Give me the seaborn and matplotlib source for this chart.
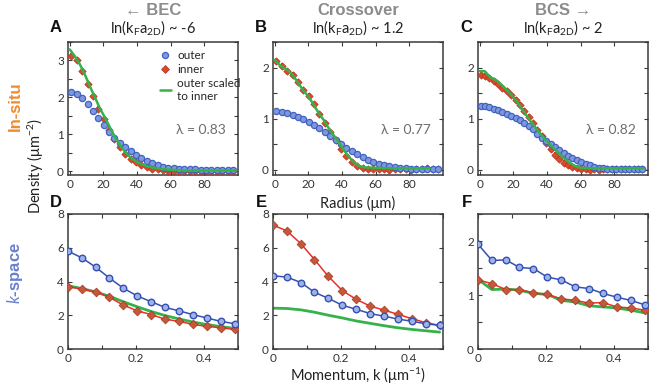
import numpy as np
import pandas as pd
import matplotlib
matplotlib.use("Agg")
import matplotlib.pyplot as plt
from matplotlib.ticker import MultipleLocator, FuncFormatter
from matplotlib.lines import Line2D
import seaborn as sns

# ---------------- data ----------------
# in-situ radius grids (um)
r_ab = [1.0, 4.2, 7.4, 10.6, 13.8, 17.0, 20.2, 23.4, 26.6, 29.8, 33.0, 36.2, 39.4, 42.6, 45.8,
        49.0, 52.2, 55.4, 58.6, 61.8, 65.0, 68.2, 71.4, 74.6, 77.8, 81.0, 84.2, 87.4, 90.6, 93.8, 97.0]
r_c = [0.5, 3.1, 5.7, 8.3, 10.9, 13.5, 16.1, 18.7, 21.3, 23.9, 26.5, 29.1, 31.7, 34.3, 36.9, 39.5,
       42.1, 44.7, 47.3, 49.9, 52.5, 55.1, 57.7, 60.3, 62.9, 65.5, 68.1, 70.7, 73.3, 75.9, 78.5,
       81.1, 83.7, 86.3, 88.9, 91.5, 94.1, 96.7]

A_outer = [2.15, 2.09, 1.99, 1.82, 1.62, 1.44, 1.24, 1.06, 0.90, 0.77, 0.65, 0.54, 0.44, 0.36, 0.29,
           0.23, 0.17, 0.13, 0.10, 0.09, 0.07, 0.06, 0.06, 0.05, 0.04, 0.04, 0.03, 0.03, 0.03, 0.03, 0.03]
A_inner = [3.12, 3.01, 2.72, 2.36, 2.04, 1.70, 1.42, 1.13, 0.88, 0.66, 0.48, 0.34, 0.24, 0.16, 0.11,
           0.07, 0.05, 0.03, 0.02, 0.01, 0.00, 0.00, 0.01, 0.00, 0.01, 0.01, 0.01, 0.01, 0.02, 0.02, 0.02]
A_scaled_r = [0, 3, 6, 9, 12, 15, 18, 21, 24, 27, 30, 33, 36, 40, 45, 50, 55, 60, 70, 80, 90, 99]
A_scaled = [3.30, 3.12, 2.90, 2.62, 2.30, 2.00, 1.70, 1.45, 1.18, 0.92, 0.70, 0.52, 0.38, 0.25, 0.15,
            0.09, 0.06, 0.04, 0.02, 0.02, 0.02, 0.02]

B_outer = [1.16, 1.14, 1.11, 1.08, 1.04, 0.99, 0.94, 0.88, 0.81, 0.74, 0.66, 0.58, 0.50, 0.43, 0.37,
           0.31, 0.25, 0.20, 0.15, 0.12, 0.09, 0.07, 0.05, 0.04, 0.03, 0.02, 0.02, 0.02, 0.02, 0.02, 0.02]
B_inner = [2.12, 2.03, 1.93, 1.85, 1.72, 1.57, 1.44, 1.28, 1.10, 0.92, 0.75, 0.58, 0.41, 0.28, 0.16,
           0.08, 0.03, 0.01, 0.01, 0.02, 0.01, 0.00, 0.01, 0.02, 0.01, 0.00, 0.01, 0.02, 0.03, 0.02, 0.02]
B_scaled_r = [0, 2, 5, 8, 11, 14, 17, 20, 23, 26, 29, 32, 35, 38, 41, 44, 47, 50, 53, 60, 70, 80, 92]
B_scaled = [2.15, 2.08, 2.00, 1.95, 1.84, 1.70, 1.55, 1.44, 1.28, 1.12, 0.98, 0.82, 0.68, 0.54, 0.39,
            0.26, 0.15, 0.08, 0.05, 0.04, 0.03, 0.03, 0.03]

C_outer = [1.25, 1.24, 1.23, 1.20, 1.17, 1.14, 1.10, 1.06, 1.02, 0.97, 0.92, 0.85, 0.79, 0.71, 0.63,
           0.57, 0.51, 0.44, 0.38, 0.33, 0.28, 0.24, 0.20, 0.16, 0.12, 0.09, 0.065, 0.045, 0.03, 0.02,
           0.02, 0.015, 0.015, 0.015, 0.015, 0.015, 0.015, 0.015]
C_inner = [1.85, 1.83, 1.79, 1.73, 1.68, 1.61, 1.54, 1.46, 1.37, 1.27, 1.15, 1.03, 0.91, 0.78, 0.66,
           0.53, 0.41, 0.30, 0.21, 0.14, 0.09, 0.05, 0.03, 0.01, 0.01, 0.00, 0.01, 0.00, 0.02, 0.01,
           0.02, 0.01, 0.02, 0.01, 0.02, 0.01, 0.02, 0.01]
C_scaled_r = [0, 3, 6, 10, 14, 18, 22, 26, 30, 34, 38, 42, 46, 50, 54, 57, 60, 65, 70, 80, 90, 97]
C_scaled = [1.93, 1.93, 1.82, 1.75, 1.63, 1.50, 1.34, 1.15, 0.96, 0.79, 0.63, 0.49, 0.36, 0.23, 0.13,
            0.07, 0.04, 0.03, 0.03, 0.03, 0.03, 0.03]

lambdas = ["0.83", "0.77", "0.82"]
regimes = ["\u2190 BEC", "Crossover", "BCS \u2192"]
couplings = ["-6", "1.2", "2"]

# k-space
k = [0.0, 0.041, 0.082, 0.122, 0.163, 0.204, 0.245, 0.286, 0.327, 0.367, 0.408, 0.449, 0.490]
D_outer = [5.80, 5.40, 4.84, 4.20, 3.60, 3.14, 2.80, 2.46, 2.26, 2.04, 1.84, 1.64, 1.50]
D_inner = [3.70, 3.54, 3.38, 3.06, 2.60, 2.26, 2.04, 1.76, 1.64, 1.46, 1.34, 1.26, 1.16]
D_scaled = [3.75, 3.58, 3.38, 3.12, 2.80, 2.50, 2.22, 1.98, 1.78, 1.60, 1.45, 1.33, 1.22]
E_outer = [4.34, 4.26, 3.94, 3.36, 3.00, 2.59, 2.35, 2.10, 1.94, 1.78, 1.64, 1.50, 1.40]
E_inner = [7.34, 7.00, 6.24, 5.30, 4.30, 3.46, 2.94, 2.54, 2.30, 2.06, 1.80, 1.56, 1.40]
E_scaled = [2.42, 2.40, 2.32, 2.18, 2.00, 1.84, 1.66, 1.52, 1.38, 1.26, 1.16, 1.08, 1.00]
F_outer = [1.94, 1.64, 1.65, 1.51, 1.49, 1.33, 1.28, 1.15, 1.12, 1.03, 0.96, 0.90, 0.82]
F_inner = [1.28, 1.21, 1.10, 1.10, 1.04, 1.01, 0.93, 0.90, 0.85, 0.86, 0.78, 0.76, 0.72]
F_scaled = [1.29, 1.10, 1.11, 1.09, 1.03, 1.01, 0.90, 0.87, 0.80, 0.78, 0.76, 0.72, 0.67]

# ---------------- style ----------------
sns.set_theme(style="ticks")
plt.rcParams["font.family"] = ["Lato", "DejaVu Sans"]
plt.rcParams["mathtext.fontset"] = "custom"
plt.rcParams["mathtext.rm"] = "Lato"
plt.rcParams["mathtext.it"] = "Lato:italic"
plt.rcParams["mathtext.bf"] = "Lato:bold"

BLUE_F = "#7E98E0"
BLUE_E = "#4262BE"
BLUE_L = "#3550B4"
RED_F = "#D9482B"
RED_E = "#B8341E"
RED_L = "#EC2F28"
RED_M = "#C8573A"
GREEN = "#35B24A"
SPINE = "#3a3a3a"

fig = plt.figure(figsize=(6.57, 3.85), dpi=100)
W = 170 / 657
lefts = [68 / 657, 273 / 657, 478 / 657]
top_b, top_h = 1 - 175 / 385, 133 / 385
bot_b, bot_h = 1 - 349 / 385, 135 / 385


def style_ax(ax):
    for s in ax.spines.values():
        s.set_color(SPINE)
        s.set_linewidth(1.1)
    ax.tick_params(which="both", direction="in", top=True, right=True, length=3,
                   width=0.8, color=SPINE, labelsize=8.5, labelcolor="#333333", pad=3)
    ax.set_xlabel("")
    ax.set_ylabel("")


def int_fmt(v, p):
    return f"{v:g}" if abs(v - round(v)) < 1e-6 else ""


insitu = [
    (r_ab, A_outer, A_inner, A_scaled_r, A_scaled, 0.08, (-0.1, 3.5)),
    (r_ab, B_outer, B_inner, B_scaled_r, B_scaled, 0.055, (-0.1, 2.5)),
    (r_c, C_outer, C_inner, C_scaled_r, C_scaled, 0.055, (-0.1, 2.5)),
]

for i, (r, out, inn, gr, gs, err, ylim) in enumerate(insitu):
    ax = fig.add_axes([lefts[i], top_b, W, top_h])
    ax.errorbar(r, inn, yerr=err, fmt="none", ecolor=RED_F, elinewidth=1.4, capsize=0, zorder=2)
    sns.scatterplot(x=r, y=inn, ax=ax, marker="D", s=14, color=RED_F, edgecolor=RED_E,
                    linewidth=0.5, zorder=3)
    sns.scatterplot(x=r, y=out, ax=ax, marker="o", s=20, color=BLUE_F, edgecolor=BLUE_E,
                    linewidth=0.9, zorder=4)
    sns.lineplot(x=gr, y=gs, ax=ax, color=GREEN, linewidth=1.8, sort=False, estimator=None, zorder=5)
    ax.set_xlim(-1, 100)
    ax.set_ylim(*ylim)
    ax.set_xticks([0, 20, 40, 60, 80])
    ax.yaxis.set_major_locator(MultipleLocator(0.5))
    ax.yaxis.set_major_formatter(FuncFormatter(int_fmt))
    style_ax(ax)
    ax.text(0.78, 0.34, "\u03bb = " + lambdas[i], transform=ax.transAxes, ha="center",
            va="center", fontsize=10, color="#6e6e6e")
    ax.text(0.5, 1.035, r"ln(k$_\mathregular{F}$a$_\mathregular{2D}$) ~ " + couplings[i],
            transform=ax.transAxes, ha="center", va="bottom", fontsize=10.5, color="#222222")
    ax.text(0.5, 1.18, regimes[i], transform=ax.transAxes, ha="center", va="bottom",
            fontsize=12, fontweight="bold", color="#8c8c8c",
            family=["Liberation Sans", "DejaVu Sans"])
    ax.text(-0.035, 1.05, "ABC"[i], transform=ax.transAxes, ha="right", va="bottom",
            fontsize=12, fontweight="bold", color="#111111", family=["Liberation Sans", "DejaVu Sans"])
    if i == 0:
        handles = [
            Line2D([], [], ls="none", marker="o", ms=4.4, mfc=BLUE_F, mec=BLUE_E, mew=0.9),
            Line2D([], [], ls="none", marker="D", ms=3.6, mfc=RED_F, mec=RED_E, mew=0.5),
            Line2D([], [], color=GREEN, lw=1.8),
        ]
        ax.legend(handles, ["outer", "inner", "outer scaled\nto inner"], loc="upper left",
                  bbox_to_anchor=(0.49, 1.0), frameon=False, fontsize=8.5, handlelength=1.0,
                  handletextpad=0.5, labelspacing=0.25, borderaxespad=0.3)

kspace = [
    (D_outer, D_inner, D_scaled, 0.12, (0, 8), 2, None),
    (E_outer, E_inner, E_scaled, 0.12, (0, 8), 2, None),
    (F_outer, F_inner, F_scaled, 0.04, (0, 2.5), 1, 0.5),
]
for i, (out, inn, gs, err, ylim, maj, mnr) in enumerate(kspace):
    ax = fig.add_axes([lefts[i], bot_b, W, bot_h])
    sns.lineplot(x=k, y=gs, ax=ax, color=GREEN, linewidth=2.0, sort=False, estimator=None, zorder=2)
    sns.lineplot(x=k, y=inn, ax=ax, color=RED_L, linewidth=1.1, sort=False, estimator=None, zorder=3)
    ax.errorbar(k, inn, yerr=err, fmt="none", ecolor=RED_M, elinewidth=1.3, capsize=0, zorder=4)
    sns.scatterplot(x=k, y=inn, ax=ax, marker="D", s=20, color=RED_M, edgecolor="#9a3a22",
                    linewidth=0.5, zorder=5)
    sns.lineplot(x=k, y=out, ax=ax, color=BLUE_L, linewidth=1.1, sort=False, estimator=None, zorder=6)
    sns.scatterplot(x=k, y=out, ax=ax, marker="o", s=22, color="#9fb2e6", edgecolor=BLUE_L,
                    linewidth=1.0, zorder=7)
    ax.set_xlim(0, 0.5)
    ax.set_ylim(*ylim)
    ax.xaxis.set_major_locator(MultipleLocator(0.1))
    ax.xaxis.set_major_formatter(FuncFormatter(
        lambda v, p: ("0" if abs(v) < 1e-9 else (f"{v:.1f}" if abs(round(v * 10) % 2) < 1e-9 else ""))))
    if mnr:
        ax.yaxis.set_major_locator(MultipleLocator(0.5))
        ax.yaxis.set_major_formatter(FuncFormatter(int_fmt))
    else:
        ax.yaxis.set_major_locator(MultipleLocator(maj))
    style_ax(ax)
    ax.text(-0.035, 1.03, "DEF"[i], transform=ax.transAxes, ha="right", va="bottom",
            fontsize=12, fontweight="bold", color="#111111", family=["Liberation Sans", "DejaVu Sans"])

# shared labels
fig.text(358 / 657, 1 - 203 / 385, "Radius (\u03bcm)", ha="center", va="center", fontsize=10.5,
         color="#222222")
fig.text(358 / 657, 1 - 376 / 385, "Momentum, k (\u03bcm$^{-1}$)", ha="center", va="center",
         fontsize=10.5, color="#222222")
fig.text(36 / 657, 1 - 166 / 385, "Density (\u03bcm$^{-2}$)", ha="center", va="center",
         rotation=90, fontsize=10.5, color="#222222")
fig.text(15 / 657, 1 - 106 / 385, "In-situ", ha="center", va="center", rotation=90,
         fontsize=12, fontweight="bold", color="#F08A2C", family=["Liberation Sans", "DejaVu Sans"])
fig.text(15 / 657, 1 - 273 / 385, "$\\it{k}$-space", ha="center", va="center", rotation=90,
         fontsize=12, fontweight="bold", color="#6B80CC", family=["Liberation Sans", "DejaVu Sans"])

fig.savefig("out.png", dpi=100)
